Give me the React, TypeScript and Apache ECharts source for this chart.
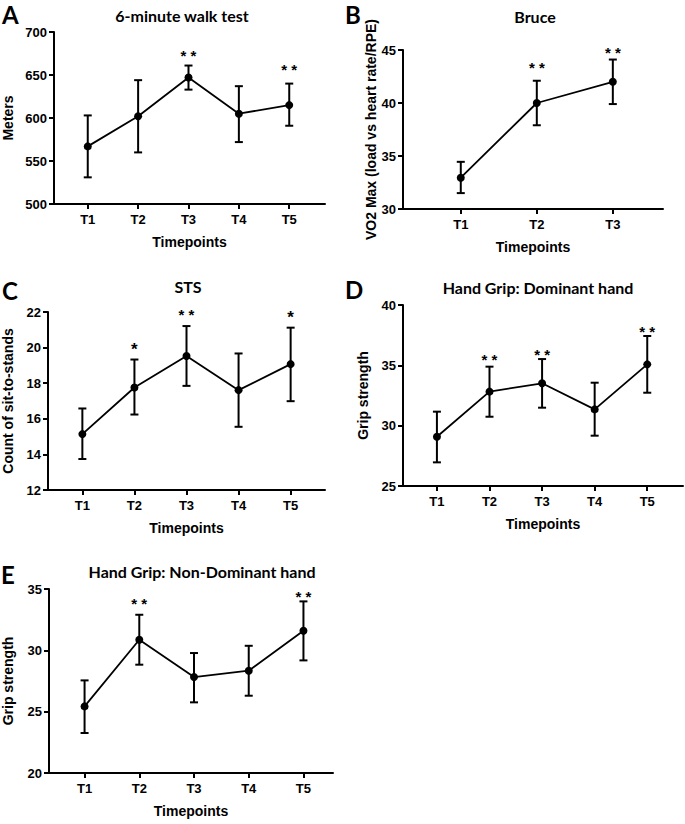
import React, { useEffect, useRef } from 'react';
import * as echarts from 'echarts';

// ---- Data ----
const timepoints5 = ['T1', 'T2', 'T3', 'T4', 'T5'];
const timepoints3 = ['T1', 'T2', 'T3'];

const walkMean = [567, 602, 647, 605, 615];
const walkLow = [531, 560, 633, 572, 591];
const walkHigh = [603, 644, 661, 637, 640];
const walkSig = ['', '', '**', '', '**'];
const walkSigY = [0, 0, 677, 0, 661];
const walkTicks = [500, 700, 50];

const bruceMean = [32.95, 40.0, 42.0];
const bruceLow = [31.5, 37.9, 39.9];
const bruceHigh = [34.45, 42.1, 44.1];
const bruceSig = ['', '**', '**'];
const bruceSigY = [0, 43.7, 45.1];
const bruceTicks = [30, 45, 5];

const stsMean = [15.14, 17.76, 19.53, 17.61, 19.07];
const stsLow = [13.74, 16.24, 17.85, 15.55, 16.99];
const stsHigh = [16.58, 19.33, 21.21, 19.67, 21.12];
const stsSig = ['', '*', '**', '', '*'];
const stsSigY = [0, 20.2, 22.06, 0, 22.0];
const stsTicks = [12, 22, 2];

const domMean = [29.08, 32.82, 33.51, 31.35, 35.08];
const domLow = [26.96, 30.74, 31.49, 29.17, 32.73];
const domHigh = [31.16, 34.89, 35.52, 33.56, 37.43];
const domSig = ['', '**', '**', '', '**'];
const domSigY = [0, 35.85, 36.27, 0, 38.15];
const domTicks = [25, 40, 5];

const nonDomMean = [25.43, 30.86, 27.82, 28.34, 31.6];
const nonDomLow = [23.26, 28.83, 25.76, 26.3, 29.18];
const nonDomHigh = [27.55, 32.9, 29.78, 30.37, 33.99];
const nonDomSig = ['', '**', '', '', '**'];
const nonDomSigY = [0, 34.18, 0, 0, 34.72];
const nonDomTicks = [20, 35, 5];

// ---- Layout (styles / positions) ----
const panels = [
  { letter: 'A', title: '6-minute walk test', yName: 'Meters', cats: timepoints5, mean: walkMean, low: walkLow, high: walkHigh, sig: walkSig, sigY: walkSigY, ticks: walkTicks,
    grid: { left: 53, top: 32, width: 272, height: 172 }, xr: [0.33, 5.71], letterPos: [2, 14], titlePos: [182, 15], yNameGap: 39 },
  { letter: 'B', title: 'Bruce', yName: 'VO2 Max (load vs heart rate/RPE)', cats: timepoints3, mean: bruceMean, low: bruceLow, high: bruceHigh, sig: bruceSig, sigY: bruceSigY, ticks: bruceTicks,
    grid: { left: 403, top: 50, width: 260, height: 159 }, xr: [0.24, 3.66], letterPos: [345, 14], titlePos: [535, 16], yNameGap: 18 },
  { letter: 'C', title: 'STS', yName: 'Count of sit-to-stands', cats: timepoints5, mean: stsMean, low: stsLow, high: stsHigh, sig: stsSig, sigY: stsSigY, ticks: stsTicks,
    grid: { left: 48, top: 312, width: 277, height: 178 }, xr: [0.34, 5.66], letterPos: [2, 290], titlePos: [188, 286], yNameGap: 33 },
  { letter: 'D', title: 'Hand Grip: Dominant hand', yName: 'Grip strength', cats: timepoints5, mean: domMean, low: domLow, high: domHigh, sig: domSig, sigY: domSigY, ticks: domTicks,
    grid: { left: 403, top: 305, width: 280, height: 181 }, xr: [0.355, 5.68], letterPos: [345, 289], titlePos: [538, 287], yNameGap: 33 },
  { letter: 'E', title: 'Hand Grip: Non-Dominant hand', yName: 'Grip strength', cats: timepoints5, mean: nonDomMean, low: nonDomLow, high: nonDomHigh, sig: nonDomSig, sigY: nonDomSigY, ticks: nonDomTicks,
    grid: { left: 49, top: 589, width: 284, height: 184 }, xr: [0.35, 5.54], letterPos: [1, 574], titlePos: [202, 571], yNameGap: 34 },
];

const AX_FONT = 'Liberation Sans, Arial, sans-serif';
const TITLE_FONT = 'Lato, Open Sans, sans-serif';

function buildOption() {
  const grid: any[] = [];
  const xAxis: any[] = [];
  const yAxis: any[] = [];
  const series: any[] = [];
  const graphic: any[] = [];

  panels.forEach((p, i) => {
    grid.push({ ...p.grid, containLabel: false });
    const positions = p.cats.map((_, j) => j + 1);
    xAxis.push({
      gridIndex: i,
      type: 'value',
      min: p.xr[0],
      max: p.xr[1],
      axisLine: { show: true, lineStyle: { color: '#000', width: 2 } },
      axisTick: { show: true, customValues: positions, length: 5, lineStyle: { color: '#000', width: 2 } },
      axisLabel: {
        customValues: positions,
        formatter: (v: number) => p.cats[Math.round(v) - 1] ?? '',
        color: '#000', fontWeight: 'bold', fontSize: 13, fontFamily: AX_FONT, margin: 9,
      },
      splitLine: { show: false },
      name: 'Timepoints',
      nameLocation: 'middle',
      nameGap: 31,
      nameTextStyle: { color: '#000', fontWeight: 'bold', fontSize: 14, fontFamily: AX_FONT },
    });
    yAxis.push({
      gridIndex: i,
      type: 'value',
      min: p.ticks[0],
      max: p.ticks[1],
      interval: p.ticks[2],
      axisLine: { show: true, lineStyle: { color: '#000', width: 2 } },
      axisTick: { show: true, length: 5, lineStyle: { color: '#000', width: 2 } },
      axisLabel: { color: '#000', fontWeight: 'bold', fontSize: 13, fontFamily: AX_FONT, margin: 7 },
      splitLine: { show: false },
      name: p.yName,
      nameLocation: 'middle',
      nameRotate: 90,
      nameGap: p.yNameGap,
      nameTextStyle: { color: '#000', fontWeight: 'bold', fontSize: 14, fontFamily: AX_FONT },
    });

    // error bars
    series.push({
      type: 'custom',
      xAxisIndex: i,
      yAxisIndex: i,
      data: p.mean.map((_, j) => [j + 1, p.low[j], p.high[j]]),
      encode: { x: 0, y: [1, 2] },
      renderItem: (params: any, api: any) => {
        const x = api.value(0);
        const lo = api.coord([x, api.value(1)]);
        const hi = api.coord([x, api.value(2)]);
        const cap = 4;
        const st = { stroke: '#000', lineWidth: 2 };
        return {
          type: 'group',
          children: [
            { type: 'line', shape: { x1: lo[0], y1: lo[1], x2: hi[0], y2: hi[1] }, style: st },
            { type: 'line', shape: { x1: hi[0] - cap, y1: hi[1], x2: hi[0] + cap, y2: hi[1] }, style: st },
            { type: 'line', shape: { x1: lo[0] - cap, y1: lo[1], x2: lo[0] + cap, y2: lo[1] }, style: st },
          ],
        };
      },
      z: 2,
    });

    // mean line
    series.push({
      type: 'line',
      xAxisIndex: i,
      yAxisIndex: i,
      data: p.mean.map((v, j) => [j + 1, v]),
      symbol: 'circle',
      symbolSize: 8,
      lineStyle: { color: '#000', width: 1.8 },
      itemStyle: { color: '#000' },
      z: 3,
    });

    // significance markers
    const sigItems = p.sig.map((s, j) => ({ s, x: j + 1, y: p.sigY[j] })).filter((d) => d.s);
    series.push({
      type: 'custom',
      xAxisIndex: i,
      yAxisIndex: i,
      data: sigItems.map((d) => [d.x, d.y]),
      renderItem: (params: any, api: any) => {
        const pt = api.coord([api.value(0), api.value(1)]);
        const txt = sigItems[params.dataIndex].s;
        const single = txt.length === 1;
        return {
          type: 'text',
          x: pt[0],
          y: pt[1] + (single ? 5 : 4),
          style: {
            text: txt.split('').join(' '),
            fill: '#000',
            fontSize: single ? 17 : 15,
            fontWeight: 'bold',
            fontFamily: AX_FONT,
            align: 'center',
            verticalAlign: 'middle',
          },
        };
      },
      z: 4,
    });

    graphic.push({
      type: 'text', x: p.letterPos[0], y: p.letterPos[1],
      style: { text: p.letter, fill: '#000', fontSize: 24, fontWeight: 'bold', fontFamily: TITLE_FONT, align: 'left', verticalAlign: 'middle' },
    });
    graphic.push({
      type: 'text', x: p.titlePos[0], y: p.titlePos[1],
      style: { text: p.title, fill: '#000', fontSize: 16, fontWeight: 'bold', fontFamily: TITLE_FONT, align: 'center', verticalAlign: 'middle' },
    });
  });

  return { animation: false, backgroundColor: '#fff', grid, xAxis, yAxis, series, graphic };
}

export default function App() {
  const ref = useRef<HTMLDivElement>(null);
  useEffect(() => {
    if (!ref.current) return;
    const chart = echarts.init(ref.current, null, { renderer: 'svg' });
    chart.setOption(buildOption() as any);
    return () => chart.dispose();
  }, []);
  return (
    <div
      ref={ref}
      style={{ position: 'fixed', left: 0, top: 0, width: 685, height: 824, background: '#fff' }}
    />
  );
}
